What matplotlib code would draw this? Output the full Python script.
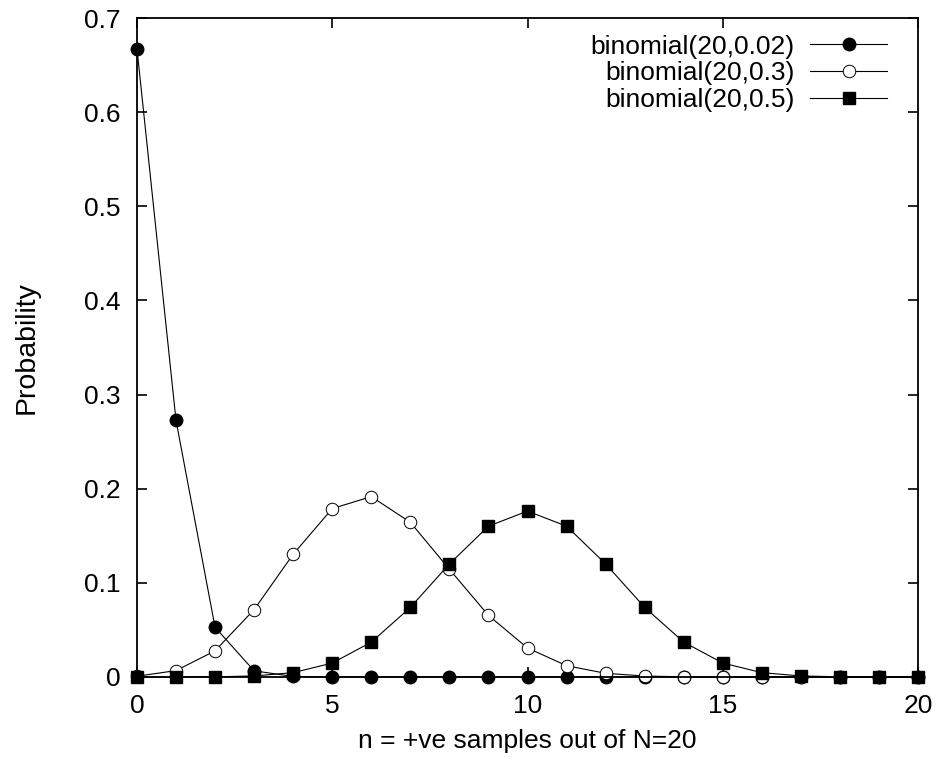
import matplotlib.pyplot as plt

plt.rcParams['font.family'] = ['Liberation Sans', 'DejaVu Sans']

n = list(range(21))
# probabilities
p002 = [0.6676, 0.2725, 0.0528, 0.0065, 0.0006, 0.0, 0.0, 0.0, 0.0, 0.0, 0.0,
        0.0, 0.0, 0.0, 0.0, 0.0, 0.0, 0.0, 0.0, 0.0, 0.0]
p03 = [0.0008, 0.0068, 0.0278, 0.0716, 0.1304, 0.1789, 0.1916, 0.1643, 0.1144, 0.0654, 0.0308,
       0.0120, 0.0039, 0.0010, 0.0002, 0.0, 0.0, 0.0, 0.0, 0.0, 0.0]
p05 = [0.0, 0.0, 0.0002, 0.0011, 0.0046, 0.0148, 0.0370, 0.0739, 0.1201, 0.1602, 0.1762,
       0.1602, 0.1201, 0.0739, 0.0370, 0.0148, 0.0046, 0.0011, 0.0002, 0.0, 0.0]

fig = plt.figure(figsize=(9.4, 7.61), dpi=100)
ax = fig.add_axes([0.1457, 0.1104, 0.831, 0.8659])

ax.plot(n, p002, color='black', linewidth=0.8, marker='o', markersize=9,
        markerfacecolor='black', markeredgecolor='black', label='binomial(20,0.02)', clip_on=False)
ax.plot(n, p03, color='black', linewidth=0.8, marker='o', markersize=9,
        markerfacecolor='white', markeredgecolor='black', markeredgewidth=0.7,
        label='binomial(20,0.3)', clip_on=False)
ax.plot(n, p05, color='black', linewidth=0.8, marker='s', markersize=9,
        markerfacecolor='black', markeredgecolor='black', label='binomial(20,0.5)', clip_on=False)

ax.set_xlim(0, 20)
ax.set_ylim(0, 0.7)
ax.set_xticks([0, 5, 10, 15, 20])
ax.set_yticks([0, 0.1, 0.2, 0.3, 0.4, 0.5, 0.6, 0.7])
ax.set_yticklabels(['0', '0.1', '0.2', '0.3', '0.4', '0.5', '0.6', '0.7'])
ax.tick_params(direction='in', length=7, width=1.2, top=True, right=True,
               labelsize=19, pad=12)
ax.tick_params(axis='y', pad=12)
for s in ax.spines.values():
    s.set_linewidth(1.3)

ax.set_xlabel('n = +ve samples out of N=20', fontsize=19, labelpad=8)
ax.set_ylabel('Probability', fontsize=20.5, labelpad=32)

ax.legend(loc='upper right', bbox_to_anchor=(0.9735, 0.9909), frameon=False,
          markerfirst=False, fontsize=19, handlelength=2.9, labelspacing=0.1,
          borderaxespad=0.0, handletextpad=0.6)

fig.savefig('out.png', dpi=100)
